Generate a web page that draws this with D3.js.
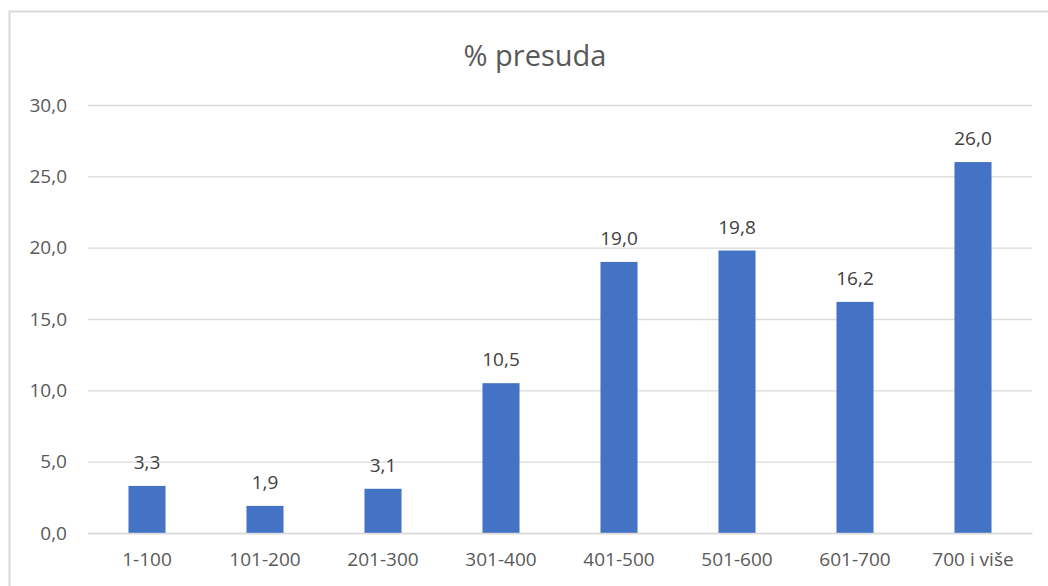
<!DOCTYPE html>
<html><head><meta charset="utf-8">
<script src="https://cdn.jsdelivr.net/npm/d3@7"></script>
<style>body{margin:0;background:#fff;}svg{display:block;}</style>
</head><body>
<script>
const categories = ["1-100","101-200","201-300","301-400","401-500","501-600","601-700","700 i više"];
const values = [3.3,1.9,3.1,10.5,19.0,19.8,16.2,26.0];
const yTicks = [0,5,10,15,20,25,30];
const title = "% presuda";

const W=1048,H=586;
const svg=d3.select("body").append("svg").attr("width",W).attr("height",H);
const font="'Open Sans', 'Liberation Sans', sans-serif";
svg.append("rect").attr("x",9.5).attr("y",11.5).attr("width",1060).attr("height",600)
  .attr("fill","#fff").attr("stroke","#d9d9d9").attr("stroke-width",2);

const m={l:88,r:1032,t:105,b:533};
const x=d3.scaleBand().domain(categories).range([m.l,m.r]).paddingInner(0.686).paddingOuter(0.343);
const y=d3.scaleLinear().domain([0,30]).range([m.b,m.t]);
const fmt=v=>v.toFixed(1).replace(".",",");
const fs="19px";

const gy=svg.append("g").attr("transform",`translate(${m.l},0)`)
 .call(d3.axisLeft(y).tickValues(yTicks).tickSize(-(m.r-m.l)).tickFormat(fmt).tickPadding(21));
gy.select(".domain").remove();
gy.selectAll(".tick line").attr("stroke","#d9d9d9").attr("stroke-width",1.3);
gy.selectAll(".tick text").attr("fill","#595959").style("font-family",font).style("font-size",fs);

svg.selectAll(".bar").data(values).enter().append("rect")
 .attr("x",(d,i)=>x(categories[i])).attr("width",x.bandwidth())
 .attr("y",d=>y(d)).attr("height",d=>y(0)-y(d)).attr("fill","#4472C4");

svg.selectAll(".lbl").data(values).enter().append("text")
 .attr("x",(d,i)=>x(categories[i])+x.bandwidth()/2).attr("y",d=>y(d)-17)
 .attr("text-anchor","middle").attr("fill","#404040").style("font-family",font).style("font-size",fs)
 .text(fmt);

const gx=svg.append("g").attr("transform",`translate(0,${m.b})`)
 .call(d3.axisBottom(x).tickSize(0).tickPadding(20));
gx.select(".domain").attr("stroke","#d9d9d9").attr("stroke-width",1.3);
gx.selectAll(".tick text").attr("fill","#595959").style("font-family",font).style("font-size",fs);

svg.append("text").attr("x",535).attr("y",66).attr("text-anchor","middle")
 .attr("fill","#595959").style("font-family",font).style("font-size","29px").text(title);
</script>
</body></html>
